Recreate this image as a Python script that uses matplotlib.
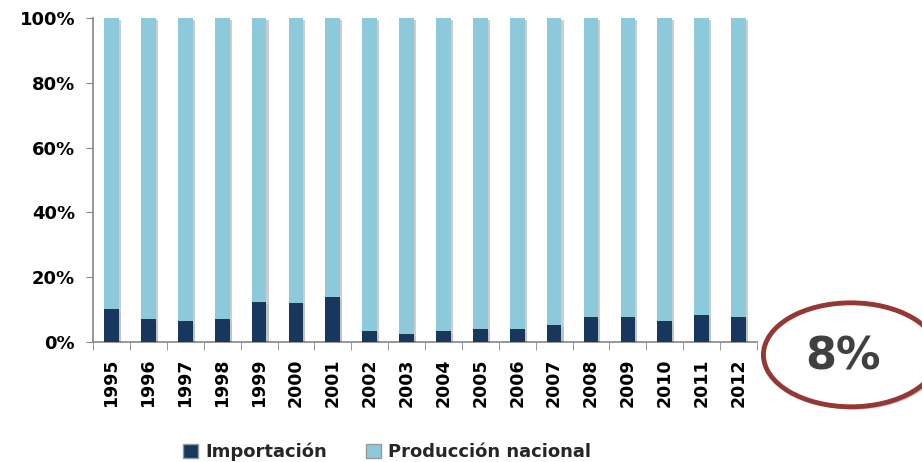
import matplotlib.pyplot as plt
import numpy as np
from matplotlib.patches import Ellipse, Patch
import matplotlib.patheffects as pe

years = ['1995', '1996', '1997', '1998', '1999', '2000', '2001', '2002', '2003',
         '2004', '2005', '2006', '2007', '2008', '2009', '2010', '2011', '2012']
importacion = [10.2, 7.0, 6.5, 7.0, 12.4, 11.9, 14.0, 3.4, 2.4,
               3.4, 4.0, 4.0, 5.2, 7.6, 7.6, 6.5, 8.3, 7.6]
produccion = [100 - v for v in importacion]
y_ticks = [0, 20, 40, 60, 80, 100]
callout = '8%'

dark = '#17375E'
light = '#8CCADB'

fig = plt.figure(figsize=(9.22, 4.62), dpi=100)
ax = fig.add_axes([0.101, 0.26, 0.72, 0.701])

x = np.arange(len(years))
shadow = [pe.SimplePatchShadow(offset=(1.5, -1.5), alpha=0.25), pe.Normal()]
ax.bar(x, importacion, width=0.4, color=dark, path_effects=shadow, zorder=3)
ax.bar(x, produccion, width=0.4, bottom=importacion, color=light,
       path_effects=shadow, zorder=3)

ax.set_xlim(-0.5, len(years) - 0.5)
ax.set_ylim(0, 100)
ax.set_yticks(y_ticks)
ax.set_yticklabels([f'{t}%' for t in y_ticks], fontsize=13, fontweight='bold')
ax.set_xticks(x)
ax.set_xticklabels(years, rotation=90, fontsize=12.5, fontweight='bold')
ax.tick_params(axis='x', length=0, pad=12)
ax.set_xticks(np.arange(-0.5, len(years)), minor=True)
ax.tick_params(axis='x', which='minor', length=6, color='#868686', direction='out')
ax.tick_params(axis='y', length=5, color='#868686', direction='out', pad=8)

for s in ['top', 'right']:
    ax.spines[s].set_visible(False)
for s in ['left', 'bottom']:
    ax.spines[s].set_color('#868686')
    ax.spines[s].set_linewidth(1.2)

handles = [Patch(facecolor=dark, edgecolor='#999999'),
           Patch(facecolor=light, edgecolor='#999999')]
fig.legend(handles, ['Importación', 'Producción nacional'], loc='center',
           bbox_to_anchor=(0.42, 0.022), ncol=2, frameon=False,
           prop={'size': 13, 'weight': 'bold'}, handlelength=0.8,
           handleheight=0.8, columnspacing=2.2, handletextpad=0.4)
for t in fig.legends[0].get_texts():
    t.set_color('#262626')

# callout ellipse
ell = Ellipse((0.923, 0.232), 0.19, 0.225, transform=fig.transFigure,
              facecolor='white', edgecolor='#953735', linewidth=3.5,
              path_effects=[pe.SimplePatchShadow(offset=(2, -2), alpha=0.3), pe.Normal()])
fig.patches.append(ell)
fig.text(0.914, 0.228, callout, ha='center', va='center', fontsize=32,
         fontweight='bold', color='#404040')

fig.savefig('out.png', dpi=100)
